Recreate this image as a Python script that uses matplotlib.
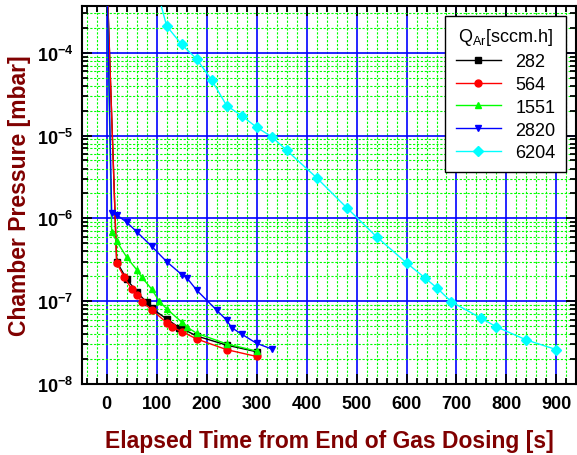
import matplotlib
matplotlib.use("Agg")
import matplotlib.pyplot as plt
from matplotlib.ticker import LogLocator, MultipleLocator, FuncFormatter, NullFormatter
import numpy as np

plt.rcParams['font.family'] = ['Liberation Sans', 'DejaVu Sans']
plt.rcParams['mathtext.fontset'] = 'custom'
plt.rcParams['mathtext.rm'] = 'Liberation Sans'
plt.rcParams['mathtext.bf'] = 'Liberation Sans:bold'

# ---- data ----
t_282 = [0, 20, 40, 60, 80, 90, 120, 145, 150, 180, 240, 300]
p_282 = [1e-3, 3.0e-7, 1.85e-7, 1.3e-7, 9.7e-8, 8.2e-8, 6.1e-8, 4.8e-8, 4.7e-8, 3.8e-8, 2.95e-8, 2.45e-8]

t_564 = [0, 20, 35, 50, 60, 70, 90, 120, 130, 150, 180, 240, 300]
p_564 = [1e-3, 2.9e-7, 1.95e-7, 1.4e-7, 1.2e-7, 9.9e-8, 7.9e-8, 5.5e-8, 4.9e-8, 4.3e-8, 3.5e-8, 2.6e-8, 2.15e-8]

t_1551 = [0, 10, 20, 40, 60, 70, 90, 105, 120, 150, 160, 180, 240, 300]
p_1551 = [1e-3, 6.8e-7, 5.3e-7, 3.4e-7, 2.4e-7, 1.95e-7, 1.4e-7, 1.0e-7, 8.1e-8, 5.6e-8, 4.9e-8, 4.1e-8, 3.05e-8, 2.5e-8]

t_2820 = [0, 10, 20, 40, 60, 90, 120, 150, 160, 180, 220, 240, 250, 270, 300, 330]
p_2820 = [1e-3, 1.17e-6, 1.1e-6, 9.0e-7, 6.9e-7, 4.6e-7, 3.0e-7, 2.1e-7, 1.93e-7, 1.36e-7,
          7.8e-8, 5.9e-8, 4.8e-8, 4.0e-8, 3.1e-8, 2.65e-8]

t_6204 = [90, 120, 150, 180, 210, 240, 270, 300, 330, 360, 420, 480, 540, 600, 636, 660,
          690, 750, 780, 840, 900]
p_6204 = [1e-3, 2.1e-4, 1.26e-4, 8.4e-5, 4.7e-5, 2.3e-5, 1.74e-5, 1.26e-5, 9.7e-6, 6.65e-6,
          3.1e-6, 1.35e-6, 6.0e-7, 2.9e-7, 1.93e-7, 1.46e-7, 9.8e-8, 6.2e-8, 4.9e-8, 3.4e-8, 2.6e-8]

labels = ['282', '564', '1551', '2820', '6204']
colors = ['#000000', '#FF0000', '#00FF00', '#0000FF', '#00FFFF']
markers = ['s', 'o', '^', 'v', 'D']
series = [(t_282, p_282), (t_564, p_564), (t_1551, p_1551), (t_2820, p_2820), (t_6204, p_6204)]

fig = plt.figure(figsize=(5.77, 4.56), dpi=100)
ax = fig.add_axes([81.7 / 577, 1 - 385 / 456, 1 - 81.7 / 577 - 0.001, (385 - 6.7) / 456])

for (t, p), lab, c, m in zip(series, labels, colors, markers):
    ms = 4.8 if m == 'D' else 5
    ax.plot(t, p, color=c, marker=m, markersize=ms, linewidth=1.0, label=lab,
            markeredgecolor=c, markerfacecolor=c, zorder=3)

ax.set_yscale('log')
ax.set_xlim(-50, 940)
ax.set_ylim(1e-8, 3.7e-4)

ax.xaxis.set_major_locator(MultipleLocator(100))
ax.xaxis.set_minor_locator(MultipleLocator(20))
ax.yaxis.set_major_locator(LogLocator(base=10, numticks=20))
ax.yaxis.set_minor_locator(LogLocator(base=10, subs=np.arange(2, 10), numticks=20))
ax.yaxis.set_minor_formatter(NullFormatter())

def yfmt(v, pos):
    e = int(round(np.log10(v)))
    return r'$\mathbf{10^{%d}}$' % e
ax.yaxis.set_major_formatter(FuncFormatter(yfmt))

def xfmt(v, pos):
    return '%d' % v if v >= 0 else ''
ax.xaxis.set_major_formatter(FuncFormatter(xfmt))

ax.grid(True, which='major', color='#0000FF', linewidth=1.2, linestyle='-', zorder=1)
ax.grid(True, which='minor', color='#00FF00', linewidth=0.8, linestyle=(0, (2, 1.5)), zorder=0)
ax.set_axisbelow(True)

ax.tick_params(which='both', direction='in', top=True, right=True, colors='black', width=1.3)
ax.tick_params(which='major', length=7, labelsize=13)
ax.tick_params(axis='x', which='major', pad=8)
ax.tick_params(axis='y', which='major', pad=6)
ax.tick_params(which='minor', length=4)
for lbl in ax.get_xticklabels():
    lbl.set_fontweight('bold')
for s in ax.spines.values():
    s.set_linewidth(1.5)
    s.set_color('black')

ax.set_xlabel('Elapsed Time from End of Gas Dosing [s]', fontsize=16.5, fontweight='bold',
              color='#800000', labelpad=12)
ax.set_ylabel('Chamber Pressure [mbar]', fontsize=16.5, fontweight='bold', color='#800000',
              labelpad=4)

leg = ax.legend(title=r'Q$_\mathrm{Ar}$[sccm.h]', loc='upper right', fontsize=13,
                title_fontsize=13, frameon=True, fancybox=False, edgecolor='black',
                framealpha=1.0, borderaxespad=0.55, handlelength=2.5, labelspacing=0.32,
                borderpad=0.6)
leg.get_frame().set_linewidth(1.0)
leg.set_zorder(5)

fig.savefig('out.png', dpi=100)
